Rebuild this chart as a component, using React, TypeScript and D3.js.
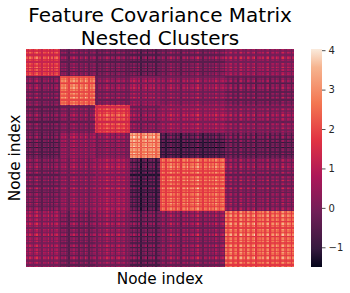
// Feature covariance heatmap: six nested clusters, seaborn "rocket" colormap.
import { useEffect, useRef } from 'react'
import * as d3 from 'd3'

const W = 350
const H = 293
const LEFT = 26
const RIGHT = 294
const TOP = 49
const BOTTOM = 267
const FONT = '"DejaVu Sans", sans-serif'

// Number of nodes in each cluster
const CLUSTER_SIZES = [20, 21, 21, 18, 39, 41]

// Mean covariance between clusters
const BLOCK_MEANS = [
  [1.55, -0.1, -0.25, -0.4, -0.15, 0.2],
  [-0.1, 2.3, 0.0, 0.2, 0.1, -0.15],
  [-0.25, 0.0, 1.7, 0.05, 0.35, 0.1],
  [-0.4, 0.2, 0.05, 2.7, -0.8, -0.45],
  [-0.15, 0.1, 0.35, -0.8, 2.1, 0.0],
  [0.2, -0.15, 0.1, -0.45, 0.0, 2.1],
]

// Light / dark stripe strength per node, estimated by eye
const STRIPES_A = [0.2, -0.3, 0.6, 0.1, -0.5, 0.3, 0.8, -0.2, 0.1, -0.6, 0.4, 0.2, -0.1, 0.7, -0.4, 0.3, -0.7, 0.2, 0.5, -0.3]
const STRIPES_B = [-0.4, 0.3, 0.1, 0.6, -0.2, -0.7, 0.4, 0.2, 0.7, -0.1, 0.3, -0.5, 0.5, 0.1, -0.3, 0.8, 0.2, -0.6, 0.3, -0.1, 0.4]
const STRIPES_C = [0.3, -0.6, 0.1, 0.5, -0.3, 0.2, -0.1, 0.7, 0.2, -0.5, 0.4, 0.1, -0.7, 0.3, 0.6, -0.2, 0.1, 0.5, -0.4, 0.2, -0.3]
const STRIPES_D = [0.4, -0.2, 0.7, 0.2, -0.5, 0.5, -0.8, 0.3, 0.1, 0.6, -0.9, 0.2, 0.4, -0.3, 0.6, -0.6, 0.1, 0.3]
const STRIPES_E = [-0.3, 0.5, 0.2, -0.6, 0.4, 0.1, 0.7, -0.2, 0.3, -0.4, 0.6, 0.1, -0.7, 0.2, 0.5, -0.1, 0.8, -0.3, 0.2, 0.4, -0.5, 0.3, 0.9, -0.2, 0.1, -0.6, 0.4, 0.2, -0.3, 0.6, -0.1, 0.3, -0.5, 0.7, 0.1, -0.4, 0.2, 0.5, -0.2]
const STRIPES_F = [0.5, -0.2, 0.3, 0.7, -0.4, 0.1, 0.4, -0.6, 0.2, 0.8, -0.1, 0.3, -0.5, 0.6, 0.2, -0.3, 0.4, 0.9, -0.7, 0.1, 0.3, -0.2, 0.5, -0.4, 0.2, 0.7, -0.6, 0.1, 0.4, -0.3, 0.6, 0.2, -0.5, 0.3, 0.8, -0.1, -0.4, 0.5, 0.2, -0.6, 0.3]
const STRIPES = [...STRIPES_A, ...STRIPES_B, ...STRIPES_C, ...STRIPES_D, ...STRIPES_E, ...STRIPES_F]
const STRIPE_WEIGHT = 0.55
const CROSS_WEIGHT = 0.9 // lines cross brighter where two strong stripes meet

// Colorbar
const V_MIN = -1.5
const V_MAX = 4.03
const BAR_TICKS = [-1, 0, 1, 2, 3, 4]
const ROCKET_POS = [0, 0.083, 0.25, 0.417, 0.583, 0.75, 0.917, 1]
const ROCKET = ['#03051a', '#35193e', '#701f57', '#ad1759', '#e13342', '#f37651', '#f6b48f', '#faebdd']

const clusterOf = CLUSTER_SIZES.flatMap((n, c) => d3.range(n).map(() => c))

export default function App() {
  const svgRef = useRef<SVGSVGElement>(null)

  useEffect(() => {
    const svg = d3.select(svgRef.current)
    svg.selectAll('*').remove()

    const nodes = d3.range(clusterOf.length)
    const x = d3.scaleBand<number>().domain(nodes).range([LEFT, RIGHT])
    const y = d3.scaleBand<number>().domain(nodes).range([TOP, BOTTOM])
    const t = d3.scaleLinear<string>()
      .domain(ROCKET_POS)
      .range(ROCKET)
      .interpolate(d3.interpolateRgb)
    const color = (v: number) => t(Math.max(0, Math.min(1, (v - V_MIN) / (V_MAX - V_MIN))))

    // ── Heatmap cells ─────────────────────────────────────────────────
    const cells = svg.append('g').attr('shape-rendering', 'crispEdges')
    nodes.forEach((i) => {
      nodes.forEach((j) => {
        const v = BLOCK_MEANS[clusterOf[i]][clusterOf[j]]
          + STRIPE_WEIGHT * (STRIPES[i] + STRIPES[j])
          + CROSS_WEIGHT * STRIPES[i] * STRIPES[j]
        cells.append('rect')
          .attr('x', x(j)!).attr('y', y(i)!)
          .attr('width', x.bandwidth()).attr('height', y.bandwidth())
          .attr('fill', color(v))
      })
    })

    // ── Colorbar ──────────────────────────────────────────────────────
    const barScale = d3.scaleLinear().domain([V_MIN, V_MAX]).range([BOTTOM, TOP])
    const grad = svg.append('defs').append('linearGradient')
      .attr('id', 'rocket')
      .attr('x1', 0).attr('y1', 1).attr('x2', 0).attr('y2', 0)
    ROCKET.forEach((c, k) => {
      grad.append('stop').attr('offset', ROCKET_POS[k]).attr('stop-color', c)
    })
    svg.append('rect')
      .attr('x', 311).attr('y', TOP)
      .attr('width', 11).attr('height', BOTTOM - TOP)
      .attr('fill', 'url(#rocket)')

    const axis = svg.append('g')
      .attr('transform', 'translate(322,0)')
      .call(d3.axisRight(barScale).tickValues(BAR_TICKS).tickSize(3.5).tickPadding(3).tickFormat(d3.format('d')))
    axis.select('.domain').remove()
    axis.selectAll('line').attr('stroke', '#262626').attr('stroke-width', 0.8)
    axis.selectAll('text')
      .attr('fill', '#262626')
      .attr('font-size', 10)
      .attr('font-family', FONT)

    // ── Titles ────────────────────────────────────────────────────────
    const addText = (label: string, tx: number, ty: number, size: number, rotate = 0) => {
      svg.append('text')
        .attr('transform', `translate(${tx},${ty}) rotate(${rotate})`)
        .attr('text-anchor', 'middle')
        .attr('font-family', FONT)
        .attr('font-size', size)
        .attr('fill', '#000')
        .text(label)
    }
    addText('Feature Covariance Matrix', 160, 21.5, 20)
    addText('Nested Clusters', 160, 44.5, 20)
    addText('Node index', 160, 284, 15.3)
    addText('Node index', 20, 158, 15.3, -90)
  }, [])

  return (
    <svg
      ref={svgRef}
      width={W}
      height={H}
      style={{ position: 'absolute', left: 0, top: 0, background: '#fff' }}
    />
  )
}
